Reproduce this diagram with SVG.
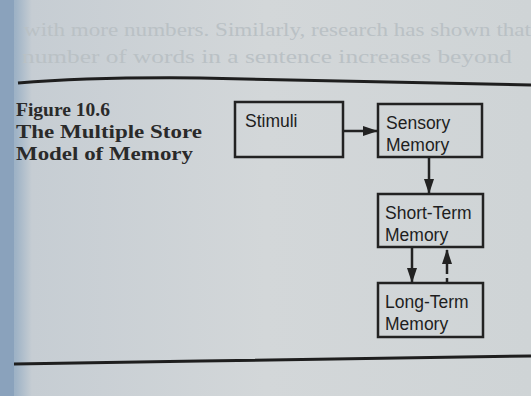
<svg xmlns="http://www.w3.org/2000/svg" width="531" height="396" viewBox="0 0 531 396">
<defs>
<linearGradient id="pg" x1="0" y1="0" x2="1" y2="0">
<stop offset="0" stop-color="#8ea6bf"/>
<stop offset="0.03" stop-color="#9fb3c6"/>
<stop offset="0.06" stop-color="#c6cdd3"/>
<stop offset="0.5" stop-color="#d3d7d9"/>
<stop offset="1" stop-color="#cfd4d6"/>
</linearGradient>
<marker id="ah" viewBox="0 0 15 10" refX="14" refY="5" markerWidth="15" markerHeight="10" orient="auto" markerUnits="userSpaceOnUse">
<path d="M0,0 L15,5 L0,10 Z" fill="#222"/>
</marker>
<style>
.box{fill:none;stroke:#222;stroke-width:2.5}
.lbl{font-family:"Liberation Sans",Arial,sans-serif;font-size:17.5px;fill:#1e1e1e}
.cap{font-family:"Liberation Serif","Times New Roman",serif;font-weight:bold;font-size:19.5px;fill:#2a2a2a}
.faint{font-family:"Liberation Serif","Times New Roman",serif;font-size:19px;fill:#bac1c5}
.con{stroke:#222;stroke-width:2.5;fill:none}
</style>
</defs>
<rect width="531" height="396" fill="url(#pg)"/>
<rect x="0" y="0" width="14" height="396" fill="#8aa2bc"/>
<g id="pagetext">
<text class="faint" x="24" y="36" textLength="507" lengthAdjust="spacingAndGlyphs">with more numbers. Similarly, research has shown that</text>
<text class="faint" x="22" y="63" textLength="490" lengthAdjust="spacingAndGlyphs">number of words in a sentence increases beyond</text>
</g>
<path d="M18,83 Q90,77 200,78 L531,85" stroke="#1e1e1e" stroke-width="3" fill="none"/>
<path d="M14,364 L200,361 L531,356" stroke="#1e1e1e" stroke-width="3" fill="none"/>
<g id="caption">
<text class="cap" x="16" y="116" textLength="94" lengthAdjust="spacingAndGlyphs">Figure 10.6</text>
<text class="cap" x="16" y="138" textLength="186" lengthAdjust="spacingAndGlyphs">The Multiple Store</text>
<text class="cap" x="16" y="160" textLength="177" lengthAdjust="spacingAndGlyphs">Model of Memory</text>
</g>
<g id="stimuli">
<rect class="box" x="235" y="102" width="108" height="55"/>
<text class="lbl" x="245" y="127">Stimuli</text>
</g>
<g id="sensory">
<rect class="box" x="378" y="104" width="104" height="53"/>
<text class="lbl" x="386" y="129">Sensory</text>
<text class="lbl" x="386" y="151">Memory</text>
</g>
<g id="shortterm">
<rect class="box" x="378" y="194" width="105" height="53"/>
<text class="lbl" x="385" y="219">Short-Term</text>
<text class="lbl" x="385" y="241">Memory</text>
</g>
<g id="longterm">
<rect class="box" x="378" y="283" width="105" height="54"/>
<text class="lbl" x="385" y="308">Long-Term</text>
<text class="lbl" x="385" y="330">Memory</text>
</g>
<g id="connectors">
<line class="con" x1="343" y1="131" x2="377" y2="131" marker-end="url(#ah)"/>
<line class="con" x1="429" y1="157" x2="429" y2="193" marker-end="url(#ah)"/>
<line class="con" x1="412" y1="247" x2="412" y2="282" marker-end="url(#ah)"/>
<line class="con" x1="447" y1="283" x2="447" y2="250" stroke-dasharray="5,4,30" marker-end="url(#ah)"/>
</g>
</svg>
